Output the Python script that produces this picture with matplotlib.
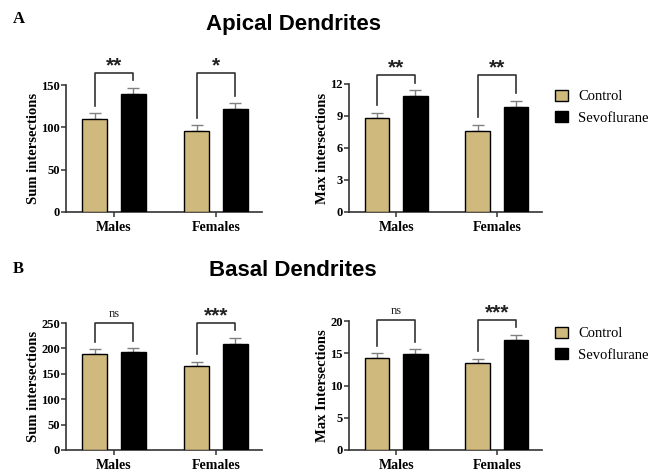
import numpy as np
import matplotlib
matplotlib.use("Agg")
import matplotlib.pyplot as plt
import matplotlib.patches as mpatches

# data (mean and SEM)
groups = ["Males", "Females"]

apical_sum_ctrl = [110, 95.5]
apical_sum_ctrl_sem = [6.5, 7.0]
apical_sum_sevo = [139, 122]
apical_sum_sevo_sem = [7.5, 6.5]
apical_sum_sig = ["**", "*"]

apical_max_ctrl = [8.8, 7.6]
apical_max_ctrl_sem = [0.5, 0.55]
apical_max_sevo = [10.85, 9.85]
apical_max_sevo_sem = [0.55, 0.6]
apical_max_sig = ["**", "**"]

basal_sum_ctrl = [188, 165]
basal_sum_ctrl_sem = [10, 8.5]
basal_sum_sevo = [192, 209.5]
basal_sum_sevo_sem = [8, 11]
basal_sum_sig = ["ns", "***"]

basal_max_ctrl = [14.3, 13.45]
basal_max_ctrl_sem = [0.7, 0.65]
basal_max_sevo = [14.95, 17.05]
basal_max_sevo_sem = [0.65, 0.75]
basal_max_sig = ["ns", "***"]

apical_sum_ticks = [0, 50, 100, 150]
apical_max_ticks = [0, 3, 6, 9, 12]
basal_sum_ticks = [0, 50, 100, 150, 200, 250]
basal_max_ticks = [0, 5, 10, 15, 20]

CTRL_COLOR = "#CFB97D"
SEVO_COLOR = "#000000"
ERR_COLOR = "#808080"
SERIF = "Liberation Serif"
SANS = "Liberation Sans"

W, H = 659, 471


def px_axes(fig, left, right, top, bottom):
    # axes box from pixel edges of the reference
    return fig.add_axes([left / W, 1 - bottom / H, (right - left) / W, (bottom - top) / H])


def draw_panel(ax, ctrl, ctrl_sem, sevo, sevo_sem, sig, ticks, ylabel):
    x = np.arange(len(groups))
    off, bw = 0.19, 0.245
    ytop = ticks[-1]

    ax.bar(x - off, ctrl, width=bw, color=CTRL_COLOR, edgecolor="black", linewidth=1, zorder=3)
    ax.bar(x + off, sevo, width=bw, color=SEVO_COLOR, edgecolor="black", linewidth=1, zorder=3)
    # upper error bars only
    ax.errorbar(x - off, ctrl, yerr=[np.zeros(len(x)), ctrl_sem], fmt="none",
                ecolor=ERR_COLOR, elinewidth=1, capsize=4.5, capthick=1, zorder=2)
    ax.errorbar(x + off, sevo, yerr=[np.zeros(len(x)), sevo_sem], fmt="none",
                ecolor=ERR_COLOR, elinewidth=1, capsize=4.5, capthick=1, zorder=2)

    ctrl_top = np.array(ctrl) + np.array(ctrl_sem)
    sevo_top = np.array(sevo) + np.array(sevo_sem)
    gap = 0.06 * ytop
    bracket_y = max(ctrl_top.max(), sevo_top.max()) + 0.117 * ytop

    for i in range(len(x)):
        xl, xr = x[i] - off, x[i] + off
        ax.plot([xl, xl, xr, xr],
                [ctrl_top[i] + gap, bracket_y, bracket_y, sevo_top[i] + gap],
                color="#333333", lw=1.2, clip_on=False, zorder=4)
        if sig[i] == "ns":
            ax.annotate("ns", (x[i], bracket_y), xytext=(0, 2), textcoords="offset points",
                        ha="center", va="bottom", fontsize=9, family=SERIF,
                        color="#222222", annotation_clip=False)
        else:
            ax.annotate(sig[i], (x[i], bracket_y), xytext=(0, -1.5), textcoords="offset points",
                        ha="center", va="bottom", fontsize=15, fontweight="bold",
                        family=SANS, color="#222222", annotation_clip=False)

    ax.set_xlim(-0.47, 1.45)
    ax.set_ylim(0, ytop)
    ax.set_yticks(ticks)
    ax.set_xticks(x)
    ax.set_xticklabels(groups, fontsize=10, fontweight="bold", family=SERIF)
    for lab in ax.get_yticklabels():
        lab.set_fontfamily(SERIF)
        lab.set_fontweight("bold")
        lab.set_fontsize(9)
    ax.set_ylabel(ylabel, fontsize=10.5, fontweight="bold", family=SERIF, labelpad=1)

    for s in ["top", "right"]:
        ax.spines[s].set_visible(False)
    for s in ["left", "bottom"]:
        ax.spines[s].set_linewidth(1.2)
        ax.spines[s].set_color("#333333")
    ax.tick_params(direction="out", length=3.5, width=1.1, color="#333333", pad=0.8)
    ax.tick_params(axis="x", pad=3)


fig = plt.figure(figsize=(W / 100, H / 100), dpi=100)

ax1 = px_axes(fig, 66, 262, 85, 212)
ax2 = px_axes(fig, 349, 542, 84, 212)
ax3 = px_axes(fig, 66, 262, 323, 450)
ax4 = px_axes(fig, 349, 542, 321, 450)

draw_panel(ax1, apical_sum_ctrl, apical_sum_ctrl_sem, apical_sum_sevo, apical_sum_sevo_sem,
           apical_sum_sig, apical_sum_ticks, "Sum intersections")
draw_panel(ax2, apical_max_ctrl, apical_max_ctrl_sem, apical_max_sevo, apical_max_sevo_sem,
           apical_max_sig, apical_max_ticks, "Max intersections")
draw_panel(ax3, basal_sum_ctrl, basal_sum_ctrl_sem, basal_sum_sevo, basal_sum_sevo_sem,
           basal_sum_sig, basal_sum_ticks, "Sum intersections")
draw_panel(ax4, basal_max_ctrl, basal_max_ctrl_sem, basal_max_sevo, basal_max_sevo_sem,
           basal_max_sig, basal_max_ticks, "Max Intersections")

# titles and panel letters
fig.text(0.445, 1 - 30 / H, "Apical Dendrites", ha="center", va="baseline",
         fontsize=16, fontweight="bold", family=SANS)
fig.text(0.445, 1 - 276 / H, "Basal Dendrites", ha="center", va="baseline",
         fontsize=16, fontweight="bold", family=SANS)
fig.text(13 / W, 1 - 23 / H, "A", ha="left", va="baseline", fontsize=12,
         fontweight="bold", family=SERIF)
fig.text(13 / W, 1 - 273 / H, "B", ha="left", va="baseline", fontsize=12,
         fontweight="bold", family=SERIF)

# legends
handles = [mpatches.Patch(facecolor=CTRL_COLOR, edgecolor="black", linewidth=1, label="Control"),
           mpatches.Patch(facecolor=SEVO_COLOR, edgecolor="black", linewidth=1, label="Sevoflurane")]
for ypx in [78, 315]:
    fig.legend(handles=handles, loc="upper left", bbox_to_anchor=(543 / W, 1 - ypx / H),
               frameon=False, handlelength=0.9, handleheight=0.8, handletextpad=0.7,
               labelspacing=0.55, borderpad=0.3,
               prop={"family": SERIF, "size": 10.5})

fig.savefig("out.png", dpi=100)
